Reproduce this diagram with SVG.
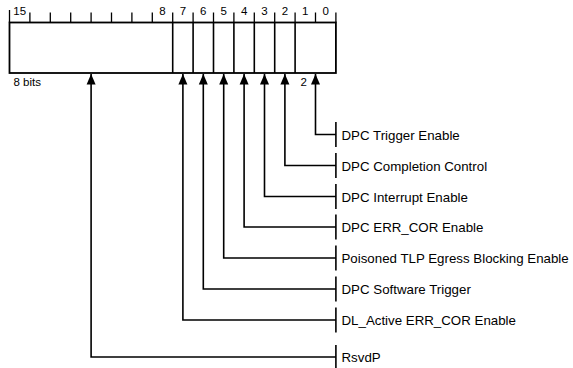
<svg xmlns="http://www.w3.org/2000/svg" width="573" height="368" viewBox="0 0 573 368">
<style>
.bx{fill:#fff;stroke:#000;stroke-width:1.8}
.ln{fill:none;stroke:#000;stroke-width:1.6}
.tk{stroke:#000;stroke-width:1.3}
.num{font-family:"Liberation Sans",Arial,sans-serif;font-size:11.5px;fill:#000;text-anchor:middle}
.sm{font-family:"Liberation Sans",Arial,sans-serif;font-size:11.5px;fill:#000}
.lb{font-family:"Liberation Sans",Arial,sans-serif;font-size:13.3px;fill:#000}
</style>
<defs>
<marker id="ah" markerUnits="userSpaceOnUse" markerWidth="11" markerHeight="10" viewBox="0 0 11 10" refX="10.5" refY="5" orient="auto">
<path d="M0,0.5 L10.5,5 L0,9.5 Z" fill="#000"/>
</marker>
</defs>
<g id="register">
<g id="ticks">
<line class="tk" x1="9.5" y1="10" x2="9.5" y2="22.5"/>
<line class="tk" x1="29.9" y1="12.5" x2="29.9" y2="22.5"/>
<line class="tk" x1="50.3" y1="12.5" x2="50.3" y2="22.5"/>
<line class="tk" x1="70.7" y1="12.5" x2="70.7" y2="22.5"/>
<line class="tk" x1="91.1" y1="12.5" x2="91.1" y2="22.5"/>
<line class="tk" x1="111.5" y1="12.5" x2="111.5" y2="22.5"/>
<line class="tk" x1="131.9" y1="12.5" x2="131.9" y2="22.5"/>
<line class="tk" x1="152.3" y1="12.5" x2="152.3" y2="22.5"/>
<line class="tk" x1="172.7" y1="12.5" x2="172.7" y2="22.5"/>
<line class="tk" x1="193.1" y1="12.5" x2="193.1" y2="22.5"/>
<line class="tk" x1="213.5" y1="12.5" x2="213.5" y2="22.5"/>
<line class="tk" x1="233.9" y1="12.5" x2="233.9" y2="22.5"/>
<line class="tk" x1="254.3" y1="12.5" x2="254.3" y2="22.5"/>
<line class="tk" x1="274.7" y1="12.5" x2="274.7" y2="22.5"/>
<line class="tk" x1="295.1" y1="12.5" x2="295.1" y2="22.5"/>
<line class="tk" x1="315.5" y1="12.5" x2="315.5" y2="22.5"/>
<line class="tk" x1="335.9" y1="12.5" x2="335.9" y2="22.5"/>
</g>
<rect class="bx" x="9.5" y="22.5" width="326.4" height="50.5"/>
<g id="dividers">
<line class="ln" x1="172.7" y1="22.5" x2="172.7" y2="73"/>
<line class="ln" x1="193.1" y1="22.5" x2="193.1" y2="73"/>
<line class="ln" x1="213.5" y1="22.5" x2="213.5" y2="73"/>
<line class="ln" x1="233.9" y1="22.5" x2="233.9" y2="73"/>
<line class="ln" x1="254.3" y1="22.5" x2="254.3" y2="73"/>
<line class="ln" x1="274.7" y1="22.5" x2="274.7" y2="73"/>
<line class="ln" x1="295.1" y1="22.5" x2="295.1" y2="73"/>
</g>
<g id="bitnums">
<text class="num" x="19.7" y="15">15</text>
<text class="num" x="162.5" y="15">8</text>
<text class="num" x="182.9" y="15">7</text>
<text class="num" x="203.3" y="15">6</text>
<text class="num" x="223.7" y="15">5</text>
<text class="num" x="244.1" y="15">4</text>
<text class="num" x="264.5" y="15">3</text>
<text class="num" x="284.9" y="15">2</text>
<text class="num" x="305.3" y="15">1</text>
<text class="num" x="325.7" y="15">0</text>
</g>
<text class="sm" x="13.5" y="86">8 bits</text>
<text class="sm" x="300.5" y="86">2</text>
</g>
<g id="connectors">
<path class="ln" marker-end="url(#ah)" d="M335.9,134.5 H315.5 V74"/>
<path class="ln" marker-end="url(#ah)" d="M335.9,165.5 H284.9 V74"/>
<path class="ln" marker-end="url(#ah)" d="M335.9,196.5 H264.5 V74"/>
<path class="ln" marker-end="url(#ah)" d="M335.9,227 H244.1 V74"/>
<path class="ln" marker-end="url(#ah)" d="M335.9,258 H223.7 V74"/>
<path class="ln" marker-end="url(#ah)" d="M335.9,289 H203.3 V74"/>
<path class="ln" marker-end="url(#ah)" d="M335.9,320 H182.9 V74"/>
<path class="ln" marker-end="url(#ah)" d="M335.9,357 H91.1 V74"/>
</g>
<g id="n-trigger"><line class="ln" x1="335.9" y1="122" x2="335.9" y2="147"/><text class="lb" x="341.5" y="139.5">DPC Trigger Enable</text></g>
<g id="n-completion"><line class="ln" x1="335.9" y1="153" x2="335.9" y2="178"/><text class="lb" x="341.5" y="170.5">DPC Completion Control</text></g>
<g id="n-interrupt"><line class="ln" x1="335.9" y1="184" x2="335.9" y2="209"/><text class="lb" x="341.5" y="201.5">DPC Interrupt Enable</text></g>
<g id="n-errcor"><line class="ln" x1="335.9" y1="214.5" x2="335.9" y2="239.5"/><text class="lb" x="341.5" y="232">DPC ERR_COR Enable</text></g>
<g id="n-poisoned"><line class="ln" x1="335.9" y1="245.5" x2="335.9" y2="270.5"/><text class="lb" x="341.5" y="263">Poisoned TLP Egress Blocking Enable</text></g>
<g id="n-software"><line class="ln" x1="335.9" y1="276.5" x2="335.9" y2="301.5"/><text class="lb" x="341.5" y="294">DPC Software Trigger</text></g>
<g id="n-dlactive"><line class="ln" x1="335.9" y1="307.5" x2="335.9" y2="332.5"/><text class="lb" x="341.5" y="325">DL_Active ERR_COR Enable</text></g>
<g id="n-rsvdp"><line class="ln" x1="335.9" y1="345" x2="335.9" y2="369"/><text class="lb" x="341.5" y="362">RsvdP</text></g>
</svg>
